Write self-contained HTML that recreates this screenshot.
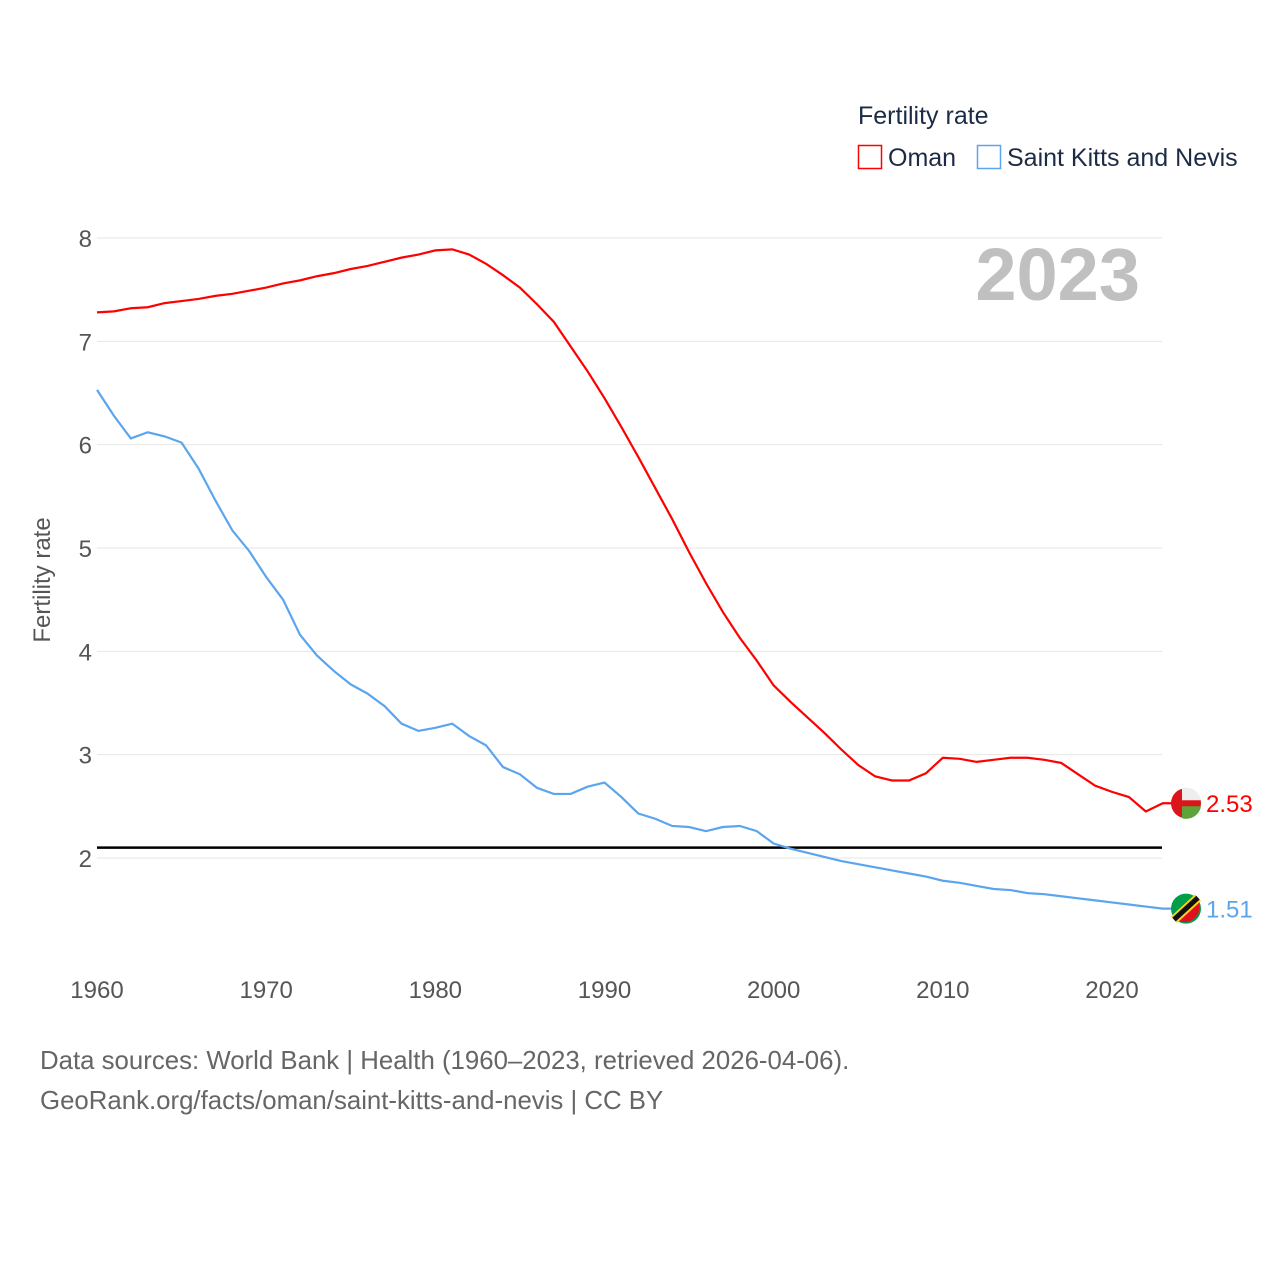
<!DOCTYPE html>
<html><head><meta charset="utf-8"><style>
body{margin:0;background:#fff;}
svg{display:block;font-family:"Liberation Sans",sans-serif;}
</style></head><body>
<svg id="chart" width="1280" height="1280" viewBox="0 0 1280 1280">
<g>
<text x="858" y="124" font-size="25" fill="#1c2b45">Fertility rate</text>
<rect x="858.5" y="145.5" width="23" height="23" fill="none" stroke="#ff0000" stroke-width="1.5"/>
<text x="888" y="166" font-size="25" fill="#1c2b45">Oman</text>
<rect x="977.5" y="145.5" width="23" height="23" fill="none" stroke="#5aa5ee" stroke-width="1.5"/>
<text x="1007" y="166" font-size="25" fill="#1c2b45">Saint Kitts and Nevis</text>
</g>
<text x="1140" y="300" font-size="74" font-weight="bold" fill="#c0c0c0" text-anchor="end">2023</text>
<g id="grid"></g>
<g id="yticks"></g>
<g id="xticks"></g>
<text transform="translate(50,580) rotate(-90)" font-size="24" fill="#555" text-anchor="middle">Fertility rate</text>
<g id="series"></g>
<text x="40" y="1069" font-size="25.8" fill="#666">Data sources: World Bank | Health (1960–2023, retrieved 2026-04-06).</text>
<text x="40" y="1109" font-size="25.8" fill="#666">GeoRank.org/facts/oman/saint-kitts-and-nevis | CC BY</text>
</svg>
<script>
const years=[];for(let y=1960;y<=2023;y++)years.push(y);
const oman=[7.28,7.29,7.32,7.33,7.37,7.39,7.41,7.44,7.46,7.49,7.52,7.56,7.59,7.63,7.66,7.70,7.73,7.77,7.81,7.84,7.88,7.89,7.84,7.75,7.64,7.52,7.36,7.19,6.95,6.71,6.45,6.17,5.88,5.58,5.28,4.96,4.66,4.38,4.13,3.91,3.67,3.51,3.36,3.21,3.05,2.90,2.79,2.75,2.75,2.82,2.97,2.96,2.93,2.95,2.97,2.97,2.95,2.92,2.81,2.70,2.64,2.59,2.45,2.53];
const skn=[6.53,6.28,6.06,6.12,6.08,6.02,5.77,5.46,5.17,4.97,4.72,4.50,4.16,3.96,3.81,3.68,3.59,3.47,3.30,3.23,3.26,3.30,3.18,3.09,2.88,2.81,2.68,2.62,2.62,2.69,2.73,2.59,2.43,2.38,2.31,2.30,2.26,2.30,2.31,2.26,2.14,2.09,2.05,2.01,1.97,1.94,1.91,1.88,1.85,1.82,1.78,1.76,1.73,1.70,1.69,1.66,1.65,1.63,1.61,1.59,1.57,1.55,1.53,1.51];
const yTicks=[2,3,4,5,6,7,8];
const xTicks=[1960,1970,1980,1990,2000,2010,2020];
const refLine=2.1;
const X=y=>97+(y-1960)*(1015/60);
const Y=v=>858-(v-2)*(620/6);
const NS="http://www.w3.org/2000/svg";
function mk(t,a,p){const e=document.createElementNS(NS,t);for(const k in a)e.setAttribute(k,a[k]);p.appendChild(e);return e;}
const grid=document.getElementById('grid'),yt=document.getElementById('yticks'),xt=document.getElementById('xticks'),ser=document.getElementById('series');
yTicks.forEach(v=>{
 const l=mk('line',{x1:97,x2:1162,y1:Y(v),y2:Y(v),stroke:'#e6e6e6','stroke-width':1},grid);
 
 
 const t=mk('text',{x:92,y:Y(v)+9,'font-size':24,fill:'#555','text-anchor':'end'},yt);t.textContent=v;
 
 
});
xTicks.forEach(v=>{
 const t=mk('text',{x:X(v),y:998,'font-size':24,fill:'#555','text-anchor':'middle'},xt);t.textContent=v;
 
 
});
const rl=mk('line',{x1:97,x2:1162,y1:Y(refLine),y2:Y(refLine),stroke:'#000','stroke-width':2.5},ser);


function line(d,c,name){
 const pts=d.map((v,i)=>X(years[i])+','+Y(v));
 pts.push((X(years[years.length-1])+10)+','+Y(d[d.length-1]));
 const p=mk('polyline',{points:pts.join(' '),fill:'none',stroke:c,'stroke-width':2.2},ser);
 
 
}
line(oman,'#ff0000','oman-line');
line(skn,'#5aa5ee','saint-kitts-line');
function endMark(d,c,name,label){
 const v=d[d.length-1],cy=Y(v),cx=1186;
 const g=mk('g',{},ser);
 
 
 mk('circle',{cx:cx,cy:cy,r:15,fill:name.includes('oman')?'#db161b':'#009e49'},g);
 if(name.includes('oman')){mk('path',{d:`M${cx-4} ${cy-15} A15 15 0 0 1 ${cx+15} ${cy-3} L${cx-4} ${cy-3}Z`,fill:'#eee'},g);mk('path',{d:`M${cx-4} ${cy+3} L${cx+15} ${cy+3} A15 15 0 0 1 ${cx-4} ${cy+15}Z`,fill:'#5ea33a'},g);}
 else{mk('path',{d:`M${cx+11} ${cy-10} A15 15 0 0 1 ${cx-11} ${cy+10}Z`,fill:'#e01020'},g);mk('line',{x1:cx-12,y1:cy+11,x2:cx+12,y2:cy-11,stroke:'#fcd116','stroke-width':9},g);mk('line',{x1:cx-12,y1:cy+11,x2:cx+12,y2:cy-11,stroke:'#111','stroke-width':5},g);}
 const t=mk('text',{x:1206,y:cy+9,'font-size':24,fill:c},g);t.textContent=label;
 
 
}
endMark(oman,'#ff0000','oman-end-marker',oman[oman.length-1].toFixed(2));
endMark(skn,'#5aa5ee','saint-kitts-end-marker',skn[skn.length-1].toFixed(2));
</script>
</body></html>
